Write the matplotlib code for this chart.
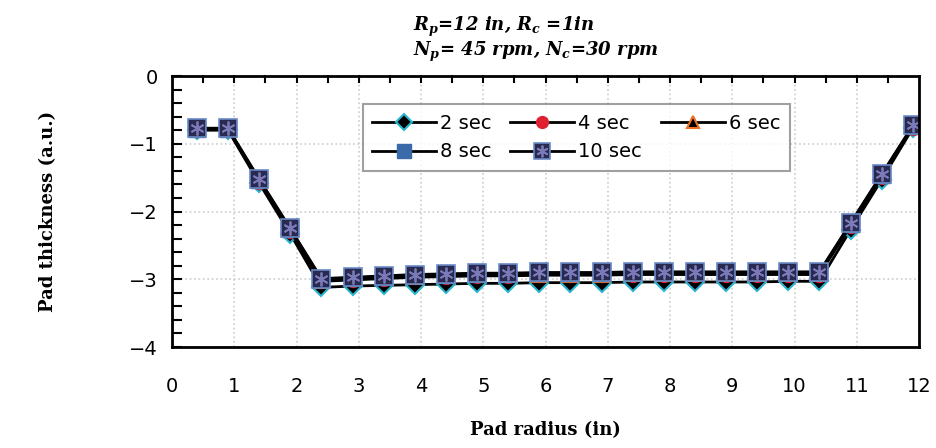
import matplotlib
matplotlib.use("Agg")
import matplotlib.pyplot as plt
from matplotlib.ticker import MultipleLocator
from matplotlib.legend_handler import HandlerTuple

plt.rcParams['mathtext.fontset'] = 'custom'
plt.rcParams['mathtext.it'] = 'DejaVu Serif:italic:bold'
plt.rcParams['mathtext.rm'] = 'DejaVu Serif:bold'

# pad radius positions (in)
radius = [0.4, 0.9, 1.4, 1.9, 2.4, 2.9, 3.4, 3.9, 4.4, 4.9, 5.4, 5.9,
          6.4, 6.9, 7.4, 7.9, 8.4, 8.9, 9.4, 9.9, 10.4, 10.9, 11.4, 11.9]

# pad thickness for each polishing time
t2 = [-0.80, -0.80, -1.58, -2.33, -3.12, -3.10, -3.09, -3.08, -3.07, -3.06, -3.06, -3.05,
      -3.05, -3.05, -3.04, -3.04, -3.04, -3.04, -3.04, -3.03, -3.03, -2.27, -1.53, -0.77]
t4 = [-0.79, -0.79, -1.56, -2.29, -3.03, -3.01, -2.99, -2.97, -2.96, -2.95, -2.95, -2.94,
      -2.94, -2.94, -2.93, -2.93, -2.93, -2.93, -2.93, -2.93, -2.93, -2.21, -1.49, -0.76]
t6 = [-0.79, -0.79, -1.55, -2.28, -3.02, -3.00, -2.98, -2.96, -2.95, -2.94, -2.94, -2.93,
      -2.93, -2.93, -2.92, -2.92, -2.92, -2.92, -2.92, -2.92, -2.92, -2.20, -1.48, -0.75]
t8 = [-0.78, -0.78, -1.53, -2.26, -3.00, -2.98, -2.96, -2.94, -2.93, -2.92, -2.92, -2.91,
      -2.91, -2.91, -2.90, -2.90, -2.90, -2.90, -2.90, -2.90, -2.90, -2.18, -1.46, -0.74]
t10 = [-0.77, -0.77, -1.52, -2.25, -2.99, -2.97, -2.95, -2.93, -2.92, -2.91, -2.91, -2.90,
       -2.90, -2.90, -2.89, -2.89, -2.89, -2.89, -2.89, -2.89, -2.89, -2.17, -1.45, -0.73]

fig = plt.figure(figsize=(9.37, 4.48), dpi=100)
ax = fig.add_axes([0.1836, 0.2254, 0.7972, 0.6049])

h2, = ax.plot(radius, t2, '-', color='black', lw=2, marker='D', ms=9,
              mfc='black', mec='#29b4d0', mew=1.5)
h4, = ax.plot(radius, t4, '-', color='black', lw=2, marker='o', ms=10,
              mfc='#e02030', mec='#e02030')
h6, = ax.plot(radius, t6, '-', color='black', lw=2, marker='^', ms=10,
              mfc='black', mec='#f07020', mew=1.5)
h8, = ax.plot(radius, t8, '-', color='black', lw=2, marker='s', ms=12,
              mfc='#3a6aaa', mec='#3a6aaa')
h10, = ax.plot(radius, t10, '-', color='black', lw=2, marker='s', ms=13,
               mfc='#2a2a50', mec='#6a8ac8', mew=1.2)
h10b, = ax.plot(radius, t10, ' ', marker=(6, 2, 0), ms=10, mec='#7a7ab8', mew=1.3)

ax.set_xlim(0, 12)
ax.set_ylim(-4, 0)
ax.xaxis.set_major_locator(MultipleLocator(1))
ax.yaxis.set_major_locator(MultipleLocator(1))
ax.grid(True, which='major', color='#cccccc', linestyle=':', linewidth=1.2)
ax.set_axisbelow(True)

# only left ticks (0.2 step) and top ticks (0.5 step), pointing in
ax.tick_params(axis='x', which='both', bottom=False, top=False, labelsize=14, pad=18)
ax.tick_params(axis='y', which='major', left=True, direction='in', length=7, width=1.5,
               labelsize=14, pad=10)
ax.yaxis.set_minor_locator(MultipleLocator(0.2))
ax.tick_params(axis='y', which='minor', left=True, direction='in', length=7, width=1.5)
for xt in [i * 0.5 for i in range(1, 24)]:
    ax.plot([xt, xt], [0, -0.09], color='black', lw=1.5, clip_on=False)

for s in ax.spines.values():
    s.set_linewidth(2)

ax.set_xlabel('Pad radius (in)', family='DejaVu Serif', fontweight='bold', fontsize=13,
              labelpad=18)
ax.set_ylabel('Pad thickness (a.u.)', family='DejaVu Serif', fontweight='bold', fontsize=13,
              labelpad=52)

# column-first fill order so rows read 2,4,6 / 8,10
handles = [h2, h8, h4, (h10, h10b), h6]
labels = ['2 sec', '8 sec', '4 sec', '10 sec', '6 sec']
leg = ax.legend(handles, labels,
                handler_map={tuple: HandlerTuple(ndivide=1, pad=0)},
                ncol=3, loc='upper left', bbox_to_anchor=(0.255, 0.897),
                borderaxespad=0,
                fontsize=14, frameon=True, fancybox=False, edgecolor='#888888',
                handlelength=3.3, handletextpad=0.2, columnspacing=0.95,
                borderpad=0.5, labelspacing=0.5, markerscale=0.85)
leg.get_frame().set_linewidth(1.5)

fig.text(0.441, 0.93, r'$R_p$=12 in, $R_c$ =1in', family='DejaVu Serif',
         fontweight='bold', fontstyle='italic', fontsize=13)
fig.text(0.441, 0.875, r'$N_p$= 45 rpm, $N_c$=30 rpm', family='DejaVu Serif',
         fontweight='bold', fontstyle='italic', fontsize=13)

fig.savefig('out.png', dpi=100)
